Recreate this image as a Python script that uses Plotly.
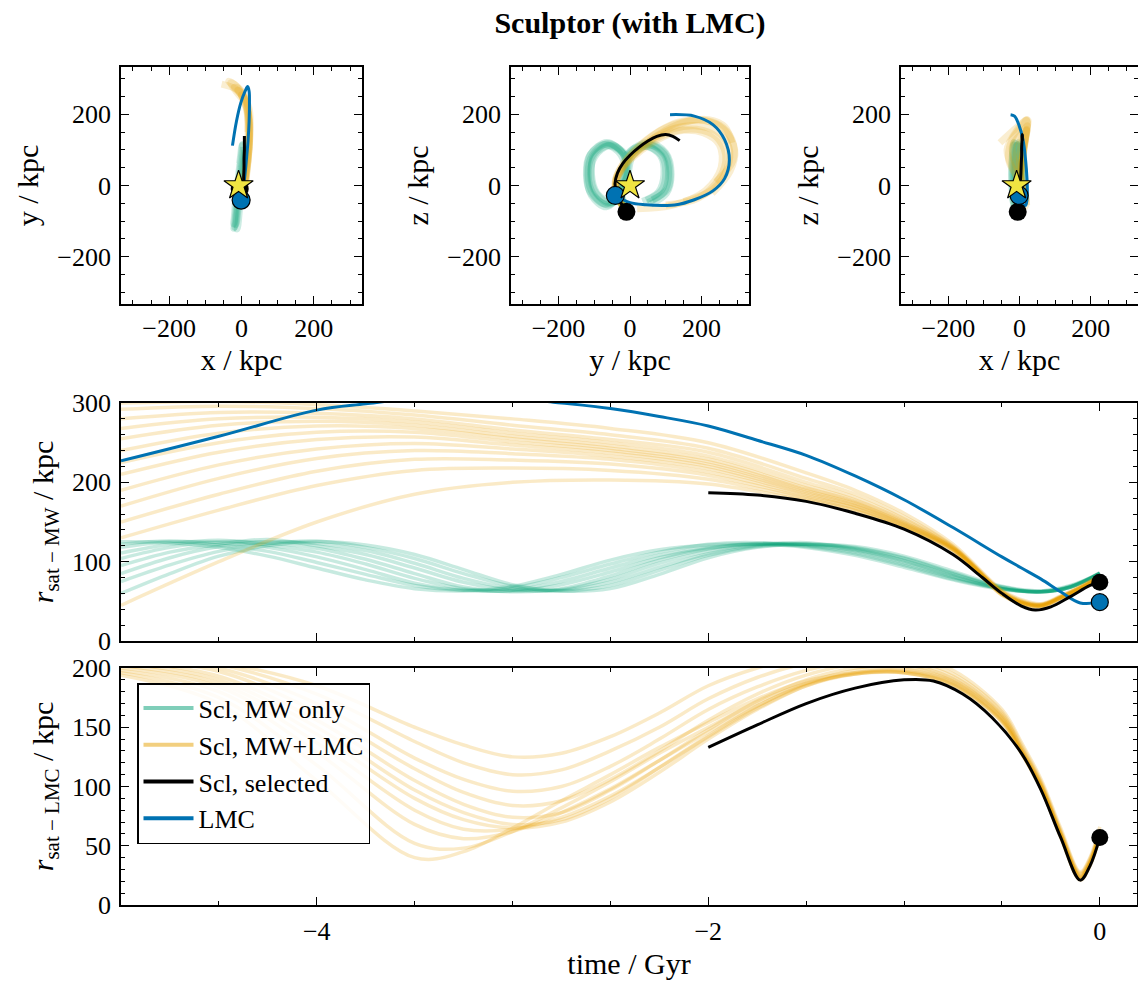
import plotly.graph_objects as go

FIG_W, FIG_H = 1138, 983
FONT = "Liberation Serif"

GREEN = "#009e73"
ORANGE = "#e69f00"
BLUE = "#0072b2"
YELLOW = "#f0e442"

# ---------------------------------------------------------------------------
# Distance from the Milky Way centre (kpc) versus lookback time (Gyr)
# ---------------------------------------------------------------------------
# Sculptor orbits integrated in the MW-only potential
T_MW_ONLY = [-5, -4.75, -4.5, -4.25, -4, -3.75, -3.5, -3.25, -3, -2.75, -2.5,
             -2.25, -2, -1.75, -1.5, -1.25, -1, -0.75, -0.5, -0.3, -0.15, 0]
R_MW_ONLY = [
    [125, 124, 118, 107, 92, 77, 66, 63, 69, 84, 102, 115, 121, 122, 118, 108, 93, 77, 65, 63, 70, 85],
    [122, 126, 121, 113, 99, 84, 70, 64, 67, 80, 97, 112, 122, 124, 119, 110, 95, 78, 66, 62, 69, 86],
    [118, 125, 124, 118, 106, 90, 73, 64, 64, 75, 92, 108, 118, 122, 120, 112, 97, 80, 66, 62, 69, 85],
    [111, 122, 127, 121, 112, 97, 79, 66, 63, 71, 87, 105, 117, 123, 121, 114, 99, 81, 66, 62, 68, 85],
    [104, 118, 125, 124, 117, 103, 85, 68, 62, 66, 82, 102, 116, 122, 122, 115, 101, 82, 66, 62, 68, 85],
    [95, 112, 122, 128, 120, 109, 92, 74, 64, 65, 78, 98, 113, 121, 124, 116, 102, 84, 67, 62, 68, 86],
    [85, 105, 119, 125, 123, 114, 98, 79, 66, 64, 74, 93, 110, 120, 122, 117, 104, 85, 68, 62, 68, 85],
    [75, 96, 113, 123, 126, 118, 104, 85, 69, 63, 70, 89, 108, 119, 122, 118, 105, 86, 68, 62, 68, 85],
    [60, 85, 107, 120, 125, 121, 109, 90, 71, 63, 66, 84, 105, 118, 122, 119, 107, 88, 69, 63, 68, 85],
]

# Sculptor orbits integrated in the MW+LMC potential
T_MW_LMC = [-5, -4.5, -4, -3.5, -3, -2.5, -2, -1.5, -1.25, -1, -0.75, -0.5,
            -0.4, -0.3, -0.2, -0.1, 0]
R_MW_LMC = [
    [300, 302, 298, 290, 280, 268, 250, 212, 190, 161, 122, 64, 52, 47, 57, 69, 83],
    [292, 296, 293, 285, 272, 260, 243, 205, 185, 157, 120, 63, 51, 46, 56, 68, 82],
    [280, 288, 287, 280, 266, 254, 238, 200, 181, 154, 119, 62, 50, 46, 56, 68, 82],
    [268, 280, 282, 276, 262, 250, 233, 196, 178, 152, 118, 62, 50, 46, 55, 67, 81],
    [255, 272, 277, 272, 258, 246, 229, 193, 176, 150, 118, 61, 49, 45, 55, 67, 81],
    [240, 262, 271, 268, 255, 243, 226, 191, 174, 149, 117, 61, 49, 45, 55, 67, 81],
    [225, 250, 263, 263, 251, 240, 223, 189, 173, 148, 117, 60, 49, 45, 55, 67, 80],
    [210, 238, 254, 257, 247, 237, 220, 187, 171, 147, 116, 60, 48, 45, 55, 66, 80],
    [190, 222, 242, 249, 242, 233, 217, 185, 170, 146, 116, 60, 48, 44, 54, 66, 80],
    [170, 205, 230, 240, 236, 229, 213, 183, 168, 145, 115, 59, 48, 44, 54, 66, 80],
    [150, 185, 214, 229, 228, 223, 209, 181, 167, 144, 115, 59, 47, 44, 54, 66, 79],
    [130, 165, 196, 215, 218, 215, 204, 179, 165, 143, 114, 58, 47, 43, 54, 65, 79],
    [45, 100, 150, 185, 200, 203, 198, 177, 164, 142, 114, 58, 47, 43, 53, 65, 79],
]

# Selected Sculptor orbit
T_SELECTED = [-2, -1.75, -1.5, -1.25, -1, -0.75, -0.6, -0.5, -0.4, -0.33, -0.25, -0.15, -0.05, 0]
R_SELECTED_MW = [187, 184, 176, 161, 141, 109, 80, 60, 44, 39, 43, 56, 70, 74]

# LMC orbit
T_LMC = [-5, -4.5, -4, -3.75, -3.5, -3.25, -3, -2.75, -2.5, -2.25, -2, -1.75,
         -1.5, -1.25, -1, -0.75, -0.5, -0.4, -0.3, -0.2, -0.1, 0]
R_LMC_MW = [227, 258, 291, 299, 306, 309, 306, 300, 293, 283, 271, 253,
            234, 208, 178, 143, 106, 92, 78, 62, 48, 49]

# ---------------------------------------------------------------------------
# Distance from the LMC (kpc) versus lookback time (Gyr)
# ---------------------------------------------------------------------------
T_REL_LMC = [-5, -4.5, -4, -3.5, -3.25, -3, -2.75, -2.5, -2.25, -2, -1.75, -1.5,
             -1.25, -1, -0.75, -0.5, -0.4, -0.3, -0.2, -0.1, -0.05, 0]
R_REL_LMC = [
    [215, 205, 185, 150, 135, 125, 128, 142, 162, 185, 200, 210, 215, 212, 198, 165, 137, 106, 65, 28, 40, 66],
    [212, 203, 178, 138, 120, 110, 114, 130, 150, 174, 192, 204, 210, 208, 195, 163, 135, 104, 63, 27, 39, 64],
    [210, 200, 170, 124, 106, 96, 100, 117, 140, 165, 184, 198, 206, 205, 193, 161, 133, 103, 62, 26, 38, 63],
    [208, 197, 163, 115, 95, 84, 88, 106, 130, 156, 178, 194, 203, 203, 191, 160, 132, 102, 61, 25, 37, 62],
    [206, 193, 156, 105, 85, 74, 78, 97, 122, 148, 172, 190, 200, 201, 190, 159, 131, 101, 60, 24, 36, 61],
    [204, 190, 150, 97, 78, 68, 72, 90, 116, 143, 168, 187, 198, 199, 189, 158, 130, 100, 60, 24, 36, 61],
    [202, 187, 144, 90, 72, 65, 70, 87, 112, 140, 165, 185, 196, 198, 188, 157, 130, 100, 59, 23, 35, 60],
    [200, 184, 137, 80, 64, 64, 74, 92, 116, 142, 166, 185, 195, 197, 187, 156, 129, 99, 59, 23, 35, 60],
    [198, 180, 129, 68, 56, 62, 78, 98, 122, 146, 168, 186, 195, 196, 186, 155, 129, 99, 58, 22, 34, 59],
    [196, 175, 118, 52, 48, 62, 82, 104, 128, 150, 171, 187, 195, 196, 186, 155, 128, 98, 58, 22, 34, 59],
    [194, 170, 105, 40, 45, 65, 88, 110, 133, 154, 174, 189, 196, 196, 185, 154, 128, 98, 57, 21, 33, 58],
]
T_SELECTED_REL = [-2, -1.75, -1.5, -1.25, -1, -0.85, -0.7, -0.55, -0.4, -0.3, -0.2, -0.1, -0.05, 0]
R_SELECTED_REL = [133, 152, 170, 183, 190, 189, 178, 158, 128, 97, 57, 21, 33, 57]

# ---------------------------------------------------------------------------
# Galactocentric positions (kpc) along the orbits, forward in time
# ---------------------------------------------------------------------------
MW_ONLY_X = [
    [0, 5, 6, 5, 0, -5, -6, -8, -12, -16, -18, -16, -12, -8, -6, -7, -5],
    [3, 8, 9, 8, 3, -2, -3, -5, -9, -13, -15, -13, -9, -5, -3, -5, -5],
    [-3, 2, 3, 2, -3, -8, -9, -11, -15, -19, -21, -19, -15, -11, -9, -9, -5],
    [6, 11, 12, 11, 6, 1, 0, -2, -6, -10, -12, -10, -6, -2, 0, -3, -5],
    [-5, 0, 1, 0, -5, -10, -11, -13, -17, -20, -22, -20, -17, -13, -11, -10, -5],
]
MW_ONLY_Y = [
    [50, 95, 108, 95, 48, 0, -12, -22, -60, -102, -117, -105, -62, -18, -10, -28, -10],
    [45, 88, 100, 88, 45, 2, -8, -18, -55, -95, -110, -98, -58, -15, -8, -25, -10],
    [58, 102, 115, 100, 50, -2, -15, -28, -66, -108, -120, -110, -65, -20, -12, -32, -10],
    [35, 80, 95, 85, 38, -8, -20, -30, -68, -110, -122, -112, -70, -25, -14, -30, -10],
    [62, 105, 112, 98, 55, 8, -5, -15, -50, -92, -108, -100, -55, -12, -6, -22, -10],
]
MW_ONLY_Z = [
    [-48, -18, 33, 88, 116, 90, 35, -15, -55, -25, 30, 85, 118, 88, 35, -25, -74],
    [-42, -14, 35, 85, 110, 86, 35, -12, -50, -22, 30, 82, 112, 84, 33, -25, -74],
    [-52, -22, 32, 92, 120, 92, 33, -20, -60, -28, 28, 88, 121, 90, 35, -28, -74],
    [-45, -18, 30, 84, 112, 88, 34, -15, -52, -20, 32, 86, 115, 86, 33, -25, -74],
    [-40, -10, 40, 90, 114, 85, 36, -10, -48, -22, 33, 86, 114, 85, 36, -22, -74],
]

MW_LMC_X = [
    [15, -15, -35, -5, 18, 22, 20, 16, 12, 8, 4, 1, -2, -4, -5],
    [18, 14, -8, -20, 10, 22, 22, 18, 13, 8, 4, 1, -2, -4, -5],
    [20, 18, 5, -10, 8, 20, 21, 17, 12, 8, 4, 1, -2, -4, -5],
    [10, 18, 15, 0, 5, 18, 20, 17, 12, 8, 4, 1, -2, -4, -5],
    [-55, -5, 20, 24, 22, 18, 13, 8, 4, 1, -2, -4, -5],
    [5, -30, -20, 10, 20, 22, 19, 15, 10, 6, 2, -1, -4, -5],
]
MW_LMC_Y = [
    [230, 280, 293, 262, 205, 145, 92, 48, 10, -20, -38, -42, -35, -22, -10],
    [150, 230, 272, 276, 242, 182, 122, 72, 32, 0, -25, -40, -38, -25, -10],
    [100, 192, 250, 268, 240, 186, 130, 80, 40, 5, -22, -38, -37, -25, -10],
    [20, 120, 210, 255, 250, 205, 150, 100, 55, 15, -15, -35, -38, -25, -10],
    [285, 265, 220, 170, 120, 75, 38, 5, -20, -37, -40, -28, -10],
    [240, 288, 285, 250, 195, 135, 85, 42, 5, -22, -39, -40, -28, -10],
]
MW_LMC_Z = [
    [-22, 40, 100, 158, 183, 178, 158, 128, 95, 60, 25, 0, -30, -55, -74],
    [-45, -12, 48, 110, 152, 168, 160, 136, 106, 76, 45, 12, -20, -50, -74],
    [-55, -35, 20, 85, 138, 158, 154, 135, 110, 80, 48, 15, -18, -50, -74],
    [-65, -55, -15, 50, 115, 148, 155, 140, 115, 85, 55, 20, -15, -48, -74],
    [120, 165, 185, 182, 165, 140, 112, 82, 50, 18, -15, -48, -74],
    [10, 70, 130, 170, 185, 178, 155, 125, 90, 55, 20, -12, -45, -74],
]

SELECTED_X = [8, 8, 8, 7, 7, 6, 6, 5, 4, 2, 0, -3, -5]
SELECTED_Y = [139, 120, 100, 75, 50, 25, 0, -20, -35, -42, -38, -25, -10]
SELECTED_Z = [126, 138, 143, 138, 125, 107, 85, 62, 35, 5, -20, -50, -74]

LMC_X = [-25, -14, -2, 10, 17, 21, 22, 21, 18, 15, 11, 6, -1]
LMC_Y = [112, 180, 232, 265, 278, 265, 232, 180, 125, 90, 45, 0, -41]
LMC_Z = [199, 195, 171, 128, 72, 20, -15, -40, -55, -56, -54, -48, -28]

SUN_XYZ = [-8.1, 0.0, 0.0]

LEGEND_LABELS = ["Scl, MW only", "Scl, MW+LMC", "Scl, selected", "LMC"]


def rgba(hex_color, a):
    h = hex_color.lstrip("#")
    return "rgba({},{},{},{})".format(int(h[0:2], 16), int(h[2:4], 16), int(h[4:6], 16), a)


def dom_x(left, right):
    return [left / FIG_W, min(right / FIG_W, 1.0)]


def dom_y(top, bottom):
    return [1 - bottom / FIG_H, 1 - top / FIG_H]


fig = go.Figure()


def line(xs, ys, ax, color, width):
    fig.add_trace(go.Scatter(
        x=xs, y=ys, mode="lines", xaxis="x" + ax, yaxis="y" + ax,
        line=dict(color=color, width=width, shape="spline", smoothing=1.0),
        showlegend=False, hoverinfo="skip"))


def dot(xv, yv, ax, color, size, symbol="circle", outline=0):
    fig.add_trace(go.Scatter(
        x=[xv], y=[yv], mode="markers", xaxis="x" + ax, yaxis="y" + ax,
        marker=dict(color=color, size=size, symbol=symbol,
                    line=dict(color="black", width=outline)),
        cliponaxis=False, showlegend=False, hoverinfo="skip"))


# ---- projections of the orbits ----
coords = {
    "x": (MW_ONLY_X, MW_LMC_X, SELECTED_X, LMC_X, 0),
    "y": (MW_ONLY_Y, MW_LMC_Y, SELECTED_Y, LMC_Y, 1),
    "z": (MW_ONLY_Z, MW_LMC_Z, SELECTED_Z, LMC_Z, 2),
}
projections = [("", "x", "y"), ("2", "y", "z"), ("3", "x", "z")]
for ax, h, v in projections:
    H, V = coords[h], coords[v]
    for a, b in zip(H[0], V[0]):
        line(a, b, ax, rgba(GREEN, 0.2), 7)
    for a, b in zip(H[1], V[1]):
        line(a, b, ax, rgba(ORANGE, 0.18), 7)
    line(H[3], V[3], ax, BLUE, 3)
    line(H[2], V[2], ax, "black", 3)
    dot(H[2][-1], V[2][-1], ax, "black", 18)
    dot(H[3][-1], V[3][-1], ax, BLUE, 18, outline=1.2)
    dot(SUN_XYZ[H[4]], SUN_XYZ[V[4]], ax, YELLOW, 22, symbol="star", outline=1.2)

# ---- distance from the MW ----
for r in R_MW_ONLY:
    line(T_MW_ONLY, r, "4", rgba(GREEN, 0.22), 3.5)
for r in R_MW_LMC:
    line(T_MW_LMC, r, "4", rgba(ORANGE, 0.22), 3.5)
line(T_LMC, R_LMC_MW, "4", BLUE, 3)
line(T_SELECTED, R_SELECTED_MW, "4", "black", 3)
dot(T_SELECTED[-1], R_SELECTED_MW[-1], "4", "black", 17)
dot(T_LMC[-1], R_LMC_MW[-1], "4", BLUE, 17, outline=1.2)

# ---- distance from the LMC ----
for r in R_REL_LMC:
    line(T_REL_LMC, r, "5", rgba(ORANGE, 0.22), 3.5)
line(T_SELECTED_REL, R_SELECTED_REL, "5", "black", 3)
dot(T_SELECTED_REL[-1], R_SELECTED_REL[-1], "5", "black", 17)

# ---- legend entries ----
for label, color in zip(LEGEND_LABELS, [rgba(GREEN, 0.5), rgba(ORANGE, 0.5), "black", BLUE]):
    fig.add_trace(go.Scatter(x=[None], y=[None], mode="lines", xaxis="x5", yaxis="y5",
                             name=label, line=dict(color=color, width=4)))


def axis_style(title, dom, rng, dtick, minor_dtick, anchor, show_labels=True,
               standoff=10, label_gap=3):
    style = dict(
        domain=dom, range=rng, anchor=anchor, automargin=False,
        showline=True, linecolor="black", linewidth=1.6, mirror="allticks",
        ticks="inside", ticklen=8, tickwidth=1.3, tickcolor="black",
        tick0=0, dtick=dtick, showticklabels=show_labels, ticklabelstandoff=label_gap,
        tickfont=dict(family=FONT, size=26, color="black"),
        minor=dict(ticks="inside", ticklen=4.5, tickwidth=1.1, tickcolor="black",
                   dtick=minor_dtick, showgrid=False),
        showgrid=False, zeroline=False,
    )
    if title:
        style["title"] = dict(text=title, font=dict(family=FONT, size=30, color="black"),
                              standoff=standoff)
    return style


SPAN = [-333, 333]
TIME_RANGE = [-5.0, 0.19]
top_dom = dom_y(67, 304)

layout = dict(
    width=FIG_W, height=FIG_H,
    margin=dict(l=0, r=0, t=0, b=0, autoexpand=False),
    paper_bgcolor="white", plot_bgcolor="white",
    font=dict(family=FONT, color="black"),
    title=dict(text="<b>Sculptor (with LMC)</b>", x=630 / FIG_W, xanchor="center",
               y=1 - 22 / FIG_H, yanchor="middle",
               font=dict(family=FONT, size=30, color="black")),
    showlegend=True,
    legend=dict(x=137 / FIG_W, y=1 - 683 / FIG_H, xanchor="left", yanchor="top",
                bgcolor="rgba(255,255,255,0.85)", bordercolor="black", borderwidth=1.5,
                font=dict(family=FONT, size=26, color="black"),
                itemwidth=50, tracegroupgap=0),
    xaxis=axis_style("x / kpc", dom_x(121, 362), SPAN, 200, 50, "y", standoff=6, label_gap=0),
    yaxis=axis_style("y / kpc", top_dom, SPAN, 200, 50, "x"),
    xaxis2=axis_style("y / kpc", dom_x(511, 749), SPAN, 200, 50, "y2", standoff=6, label_gap=0),
    yaxis2=axis_style("z / kpc", top_dom, SPAN, 200, 50, "x2"),
    xaxis3=axis_style("x / kpc", dom_x(901, 1139), SPAN, 200, 50, "y3", standoff=6, label_gap=0),
    yaxis3=axis_style("z / kpc", top_dom, SPAN, 200, 50, "x3"),
    xaxis4=axis_style(None, dom_x(121, 1137), TIME_RANGE, 2, 0.5, "y4", show_labels=False),
    yaxis4=axis_style("<i>r</i><sub>sat − MW</sub> / kpc", dom_y(403, 641), [0, 300], 100, 20, "x4"),
    xaxis5=axis_style("time / Gyr", dom_x(121, 1137), TIME_RANGE, 2, 0.5, "y5",
                      standoff=8, label_gap=2),
    yaxis5=axis_style("<i>r</i><sub>sat − LMC</sub> / kpc", dom_y(668, 905), [0, 200], 50, 10, "x5"),
)
fig.update_layout(**layout)

fig.write_html("out.html")
